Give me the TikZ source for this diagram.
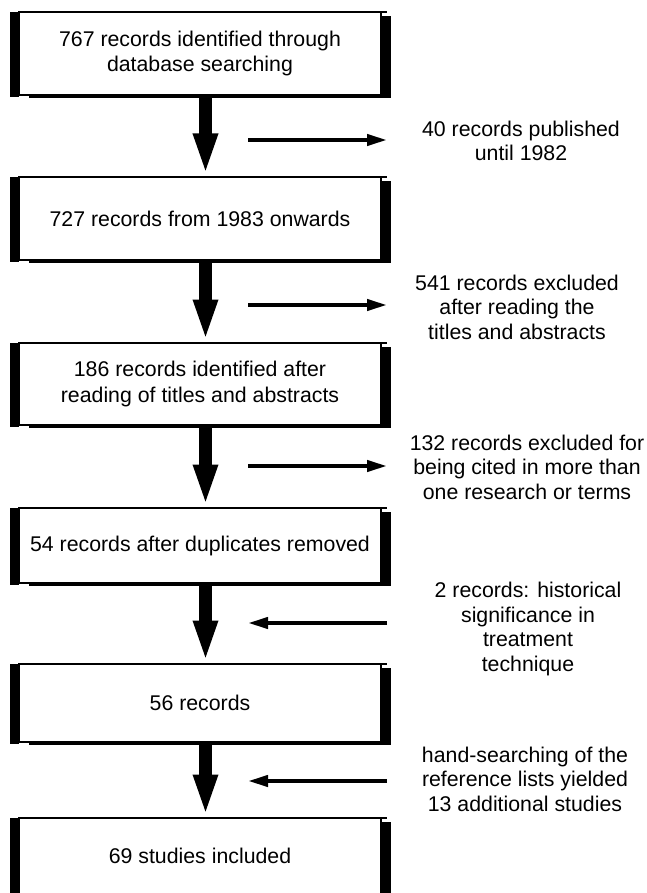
\documentclass[tikz,border=0pt]{standalone}
\usepackage{fontspec}
\setmainfont{Liberation Sans}
\usetikzlibrary{arrows.meta,calc}
\begin{document}
\begin{tikzpicture}[x=1pt,y=-1pt,
  boxnode/.style={draw=black,line width=1.1pt,fill=white,minimum width=362pt,inner sep=0pt,outer sep=0pt,align=center,font=\fontsize{21.3}{25.5}\selectfont,anchor=north west},
  sidetext/.style={align=center,font=\fontsize{21.3}{24.5}\selectfont,inner sep=0pt},
  mainarrow/.style={line width=13pt,-{Triangle[length=42pt,width=22pt]}},
  sidearrow/.style={line width=4pt,-{Triangle[length=20pt,width=11pt]}}]
\useasboundingbox (0,0) rectangle (646,893);
\clip (0,0) rectangle (646,893);
\fill[white] (0,0) rectangle (646,893);

\node[boxnode,minimum height=83pt] (b1) at (19,12) {767 records identified through\\database searching};
\node[boxnode,minimum height=83pt] (b2) at (19,177) {727 records from 1983 onwards};
\node[boxnode,minimum height=82pt] (b3) at (19,343) {186 records identified after\\reading of titles and abstracts};
\node[boxnode,minimum height=75pt] (b4) at (19,508) {54 records after duplicates removed};
\node[boxnode,minimum height=78pt] (b5) at (19,664) {56 records};
\node[boxnode,minimum height=76pt] (b6) at (19,818) {69 studies included};

\foreach \b in {b1,b2,b3,b4,b5,b6}{
  \fill[black] ($(\b.north west)+(-9,0)$) rectangle ($(\b.south west)+(0,2)$);
  \fill[black] ($(\b.north east)+(0,4)$) rectangle ($(\b.south east)+(10,3)$);
  \fill[black] ($(\b.south west)+(10,0)$) rectangle ($(\b.south east)+(10,3)$);
  \draw[line width=1.1pt] (\b.north east) -- ++(6,0);
}

\coordinate (ax) at (205.5,0);
\foreach \a/\c in {b1/b2,b2/b3,b3/b4,b4/b5,b5/b6}
  \draw[mainarrow] (\a.south -| ax) -- ($(\c.north -| ax)+(0,-1.5)$);

\coordinate (s1a) at (248,140); \coordinate (s1b) at (387,140);
\coordinate (s2a) at (248,305); \coordinate (s2b) at (387,305);
\coordinate (s3a) at (248,466); \coordinate (s3b) at (387,466);
\coordinate (s4a) at (248,623); \coordinate (s4b) at (387,623);
\coordinate (s5a) at (248,781); \coordinate (s5b) at (387,781);
\draw[sidearrow] (s1a) -- (s1b);
\draw[sidearrow] (s2a) -- (s2b);
\draw[sidearrow] (s3a) -- (s3b);
\draw[sidearrow] (s4b) -- (s4a);
\draw[sidearrow] (s5b) -- (s5a);

\node[sidetext] (t1) at (521,141) {40 records published\\until 1982};
\node[sidetext] (t2) at (517,307) {541 records excluded\\after reading the\\titles and abstracts};
\node[sidetext] (t3) at (527,467) {132 records excluded for\\being cited in more than\\one research or terms};
\node[sidetext] (t4) at (528,629) {2 records: historical\\significance in\\treatment\\technique};
\node[sidetext] (t5) at (525,779) {hand-searching of the\\reference lists yielded\\13 additional studies};
\end{tikzpicture}
\end{document}
